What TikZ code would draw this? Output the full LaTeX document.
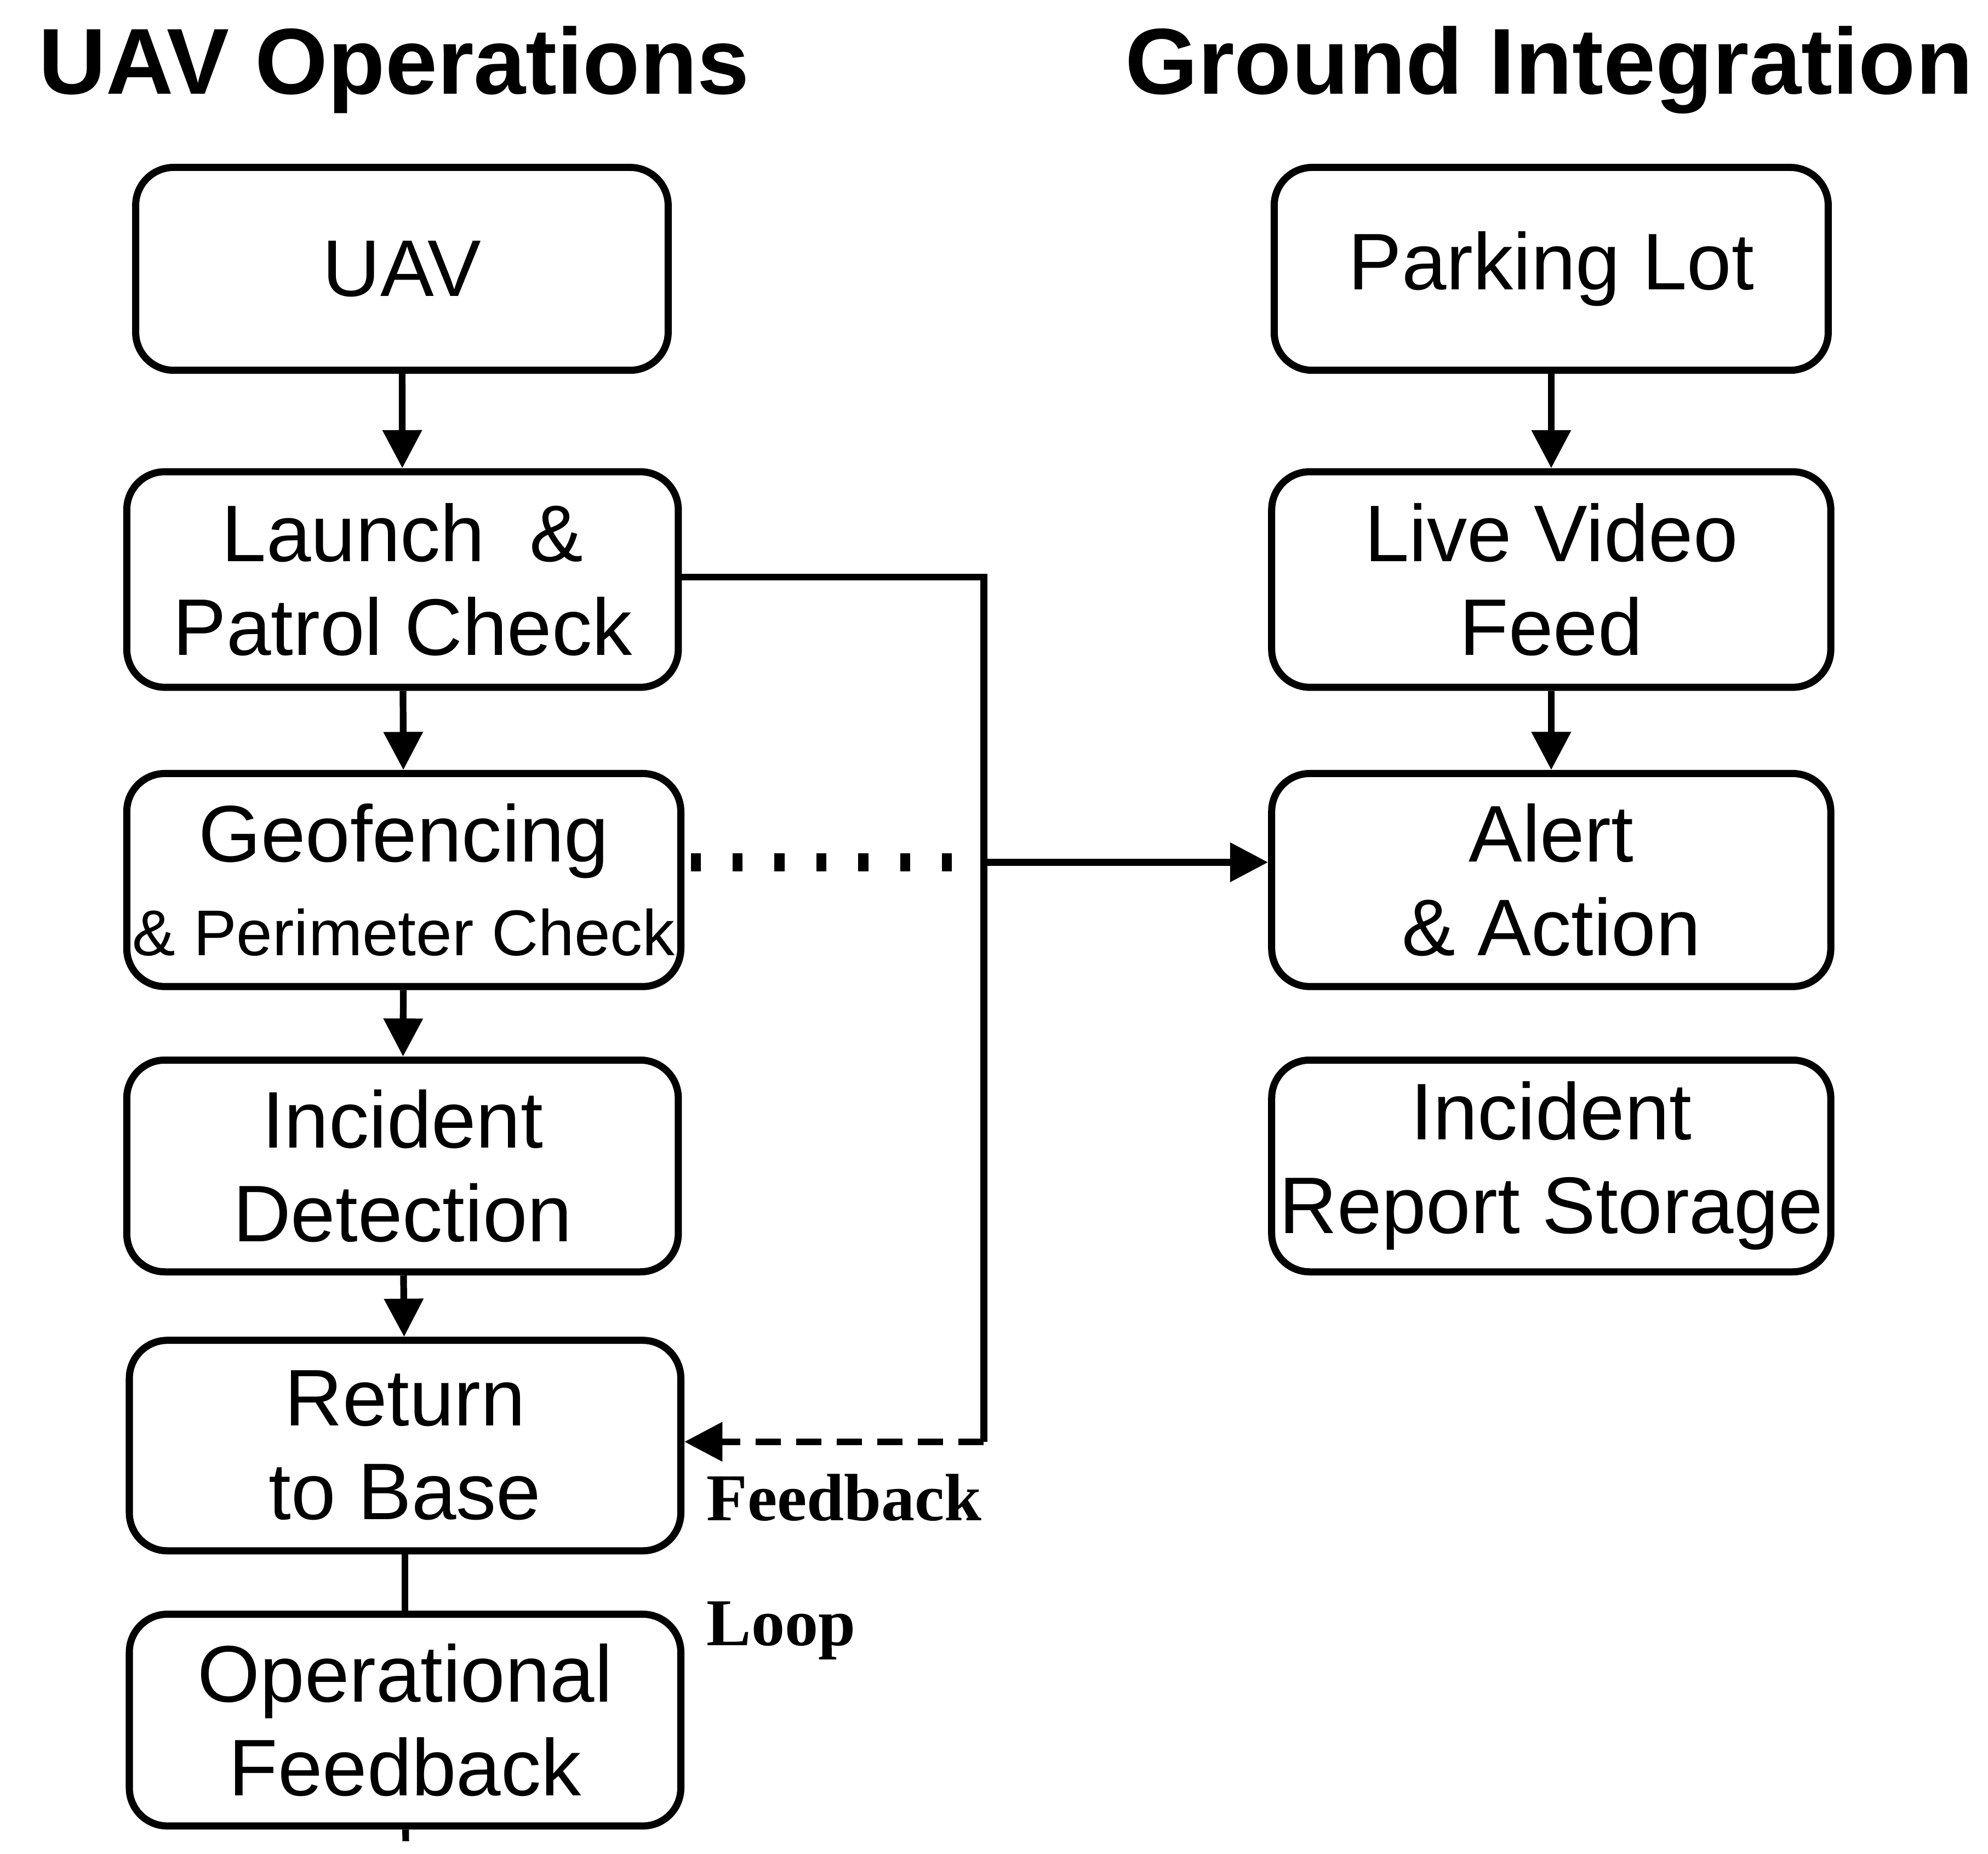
\documentclass[tikz,border=0pt]{standalone}
\usepackage{fontspec}
\setmainfont{Liberation Sans}
\newfontfamily\fbfont{Liberation Serif}
\usetikzlibrary{arrows.meta}
\begin{document}
\begin{tikzpicture}[x=0.01cm,y=-0.01cm,
  box/.style={draw,line width=1.6pt,rounded corners=0.3cm,align=center,inner sep=0pt,font=\fontsize{18}{21}\selectfont},
  ln/.style={line width=1.5pt},
  arr/.style={ln,-{Triangle[length=0.3cm,width=0.3cm]}},
  title/.style={font=\fontsize{21}{25}\bfseries\selectfont,anchor=west}]
\useasboundingbox (0,0) rectangle (1568,1462);
\node[title] (t1) at (18,55) {UAV Operations};
\node[title] (t2) at (875,55) {Ground Integration};
\newcommand\bx[6]{\node[box,minimum width=#4*0.01cm-#2*0.01cm,minimum height=#5*0.01cm-#3*0.01cm] (#1) at ({(#2+#4)/2},{(#3+#5)/2}) {#6};}
\bx{uav}{107}{132}{527}{292}{UAV}
\bx{launch}{100}{372}{535}{542}{Launch\ \ \&\\Patrol Check}
\bx{geo}{100}{610}{537}{778}{Geofencing\\{\fontsize{14.5}{17}\selectfont \& Perimeter Check}}
\bx{inc}{100}{836}{535}{1003}{Incident\\Detection}
\bx{ret}{102}{1057}{537}{1223}{Return\\to Base}
\bx{op}{102}{1273}{537}{1440}{Operational\\Feedback}
\bx{park}{1005}{132}{1442}{292}{Parking Lot}
\bx{live}{1003}{372}{1444}{542}{Live Video\\Feed}
\bx{alert}{1003}{610}{1444}{778}{Alert\\\& Action}
\bx{rep}{1003}{836}{1444}{1003}{Incident\\Report Storage}
\draw[arr] (uav) -- (launch);
\draw[arr] (launch) -- (geo);
\draw[arr] (geo) -- (inc);
\draw[arr] (inc) -- (ret);
\draw[ln] (ret) -- (op);
\coordinate (e) at (320,1452);
\draw[ln] (op) -- (e);
\draw[arr] (park) -- (live);
\draw[arr] (live) -- (alert);
\coordinate (a1) at (776,455);
\coordinate (a2) at (776,1137);
\draw[ln] (launch.east |- a1) -- (a1) -- (a2);
\draw[arr,dashed,dash pattern=on 0.2cm off 0.12cm] (a2) -- (ret.east |- a2);
\coordinate (m) at (776,680);
\draw[line width=4pt,dash pattern=on 0.08cm off 0.25cm] (geo.east |- m) ++(5,0) -- (m);
\draw[arr] (m) -- (alert.west |- m);
\node[font=\fontsize{15}{20}\fbfont\bfseries\selectfont,align=left,anchor=north west] (fb) at (545,1150) {Feedback\\[8pt]Loop};
\end{tikzpicture}
\end{document}
